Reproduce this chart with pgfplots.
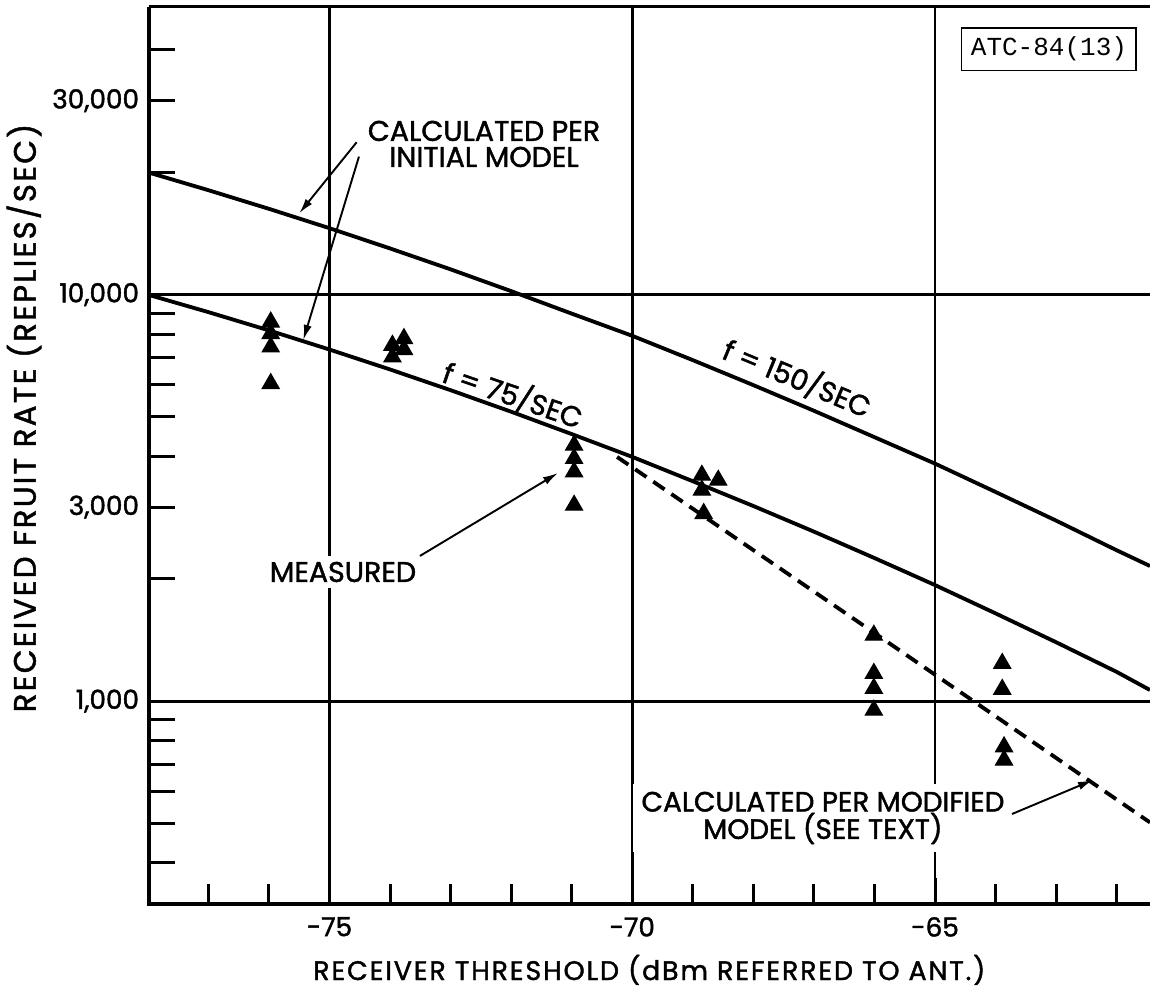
\documentclass[border=0pt]{standalone}
\usepackage{fontspec}
\setmainfont{Poppins}[FakeBold=1.5]
\newfontfamily\monofont{Liberation Mono}
\usepackage{pgfplots}
\pgfplotsset{compat=1.18}
\usetikzlibrary{arrows.meta}

\pgfplotstableread{
x y
-78 20000
-77 18070
-76 16260
-75 14570
-74 12990
-73 11540
-72 10200
-71 8980
-70 7920
-69 6900
-68 5990
-67 5180
-66 4460
-65 3840
-64 3270
-63 2780
-62 2350
-61.45 2150
}\curveA

\pgfplotstableread{
x y
-78 10000
-77 9057
-76 8166
-75 7328
-74 6546
-73 5821
-72 5152
-71 4539
-70 3990
-69 3475
-68 3020
-67 2612
-66 2249
-65 1930
-64 1644
-63 1396
-62 1180
-61.45 1065
}\curveB

\pgfplotstableread{
x y
-70.25 3988
-66.31 1582
-61.45 503
}\curveC

\pgfplotstableread{
x y
-75.97 8560
-75.97 8020
-75.97 7433
-75.97 6042
-73.96 7504
-73.96 7025
-73.77 7795
-73.77 7325
-70.96 4261
-70.96 3953
-70.96 3664
-70.96 3033
-68.85 3595
-68.85 3303
-68.58 3494
-68.82 2894
-66.01 1453
-66.01 1170
-66.01 1075
-66.01 950
-63.89 1238
-63.89 1069
-63.86 772
-63.86 716
}\measdata

\begin{document}
\begin{tikzpicture}
\begin{axis}[
 scale only axis,
 width=365.7pt, height=327.6pt,
 xmin=-77.985, xmax=-61.45,
 ymode=log, ymin=317, ymax=51000,
 axis line style={draw=none},
 tick pos=left,
 tick align=inside,
 xtick={-75,-70,-65},
 xticklabels={-75,-70,-65},
 minor xtick={-77,-76,-74,-73,-72,-71,-69,-68,-67,-66,-64,-63,-62},
 xmajorgrids=true,
 ytick={400,500,600,700,800,900,1000,2000,3000,4000,5000,6000,7000,8000,9000,10000,20000,30000,40000},
 yticklabels={,,,,,,{1,000},,{3,000},,,,,,,{10,000},,{30,000},},
 extra y ticks={1000,10000},
 extra y tick labels={},
 extra y tick style={grid=major},
 major tick length=9.5pt,
 minor tick length=7.3pt,
 tick style={line width=1.1pt, black},
 major grid style={line width=1pt, black},
 ticklabel style={font=\fontsize{9.6}{11}\selectfont},
 xticklabel style={yshift=-1.3pt},
 /pgf/number format/assume math mode=true,
 clip=false,
]
\addplot[line width=1.4pt, black] table {\curveA};
\addplot[line width=1.4pt, black] table {\curveB};
\addplot[line width=1.4pt, black, dash pattern=on 5pt off 3pt] table {\curveC};
\addplot[only marks, mark=triangle*, mark size=3.6pt, black] table {\measdata};

% frame
\draw[line width=1.4pt] (rel axis cs:0,1) -- (rel axis cs:0,0) -- (rel axis cs:1,0);
\draw[line width=1.1pt] (rel axis cs:0,1) -- (rel axis cs:1,1);

% annotations
\node[align=center, font=\fontsize{10.4}{9.5}\selectfont] at (rel axis cs:0.3349,0.8473) {CALCULATED PER\\INITIAL MODEL};
\draw[line width=0.7pt, -{Latex[length=5.5pt,width=3pt]}] (rel axis cs:0.2077,0.8492) -- (rel axis cs:0.1504,0.7700);
\draw[line width=0.7pt, -{Latex[length=5.5pt,width=3pt]}] (rel axis cs:0.2100,0.8332) -- (rel axis cs:0.1544,0.6288);

\node[fill=white, inner sep=2pt, font=\fontsize{10.4}{12}\selectfont] at (rel axis cs:0.1940,0.3701) {MEASURED};
\draw[line width=0.7pt, -{Latex[length=5.5pt,width=3pt]}] (rel axis cs:0.2709,0.3880) -- (rel axis cs:0.4088,0.4805);

\node[fill=white, align=center, inner sep=3pt, font=\fontsize{10.2}{10}\selectfont] at (rel axis cs:0.6734,0.0959) {CALCULATED PER MODIFIED\\MODEL (SEE TEXT)};
\draw[line width=0.7pt, -{Latex[length=5.5pt,width=3pt]}] (rel axis cs:0.8622,0.1003) -- (rel axis cs:0.9431,0.1382);

\node[rotate=-22.5, font=\fontsize{10.4}{12}\selectfont] at (rel axis cs:0.6477,0.5864) {f = 150/SEC};
\node[rotate=-19, font=\fontsize{10.4}{12}\selectfont] at (rel axis cs:0.3638,0.5675) {f = 75/SEC};

\node[draw, line width=0.5pt, minimum width=62.8pt, minimum height=15.3pt, font=\monofont\fontsize{9.5}{11}\selectfont] at (rel axis cs:0.8991,0.9530) {ATC-84(13)};

% axis labels
\node[rotate=90, font=\fontsize{11.3}{13}\selectfont\addfontfeatures{LetterSpace=7}] at (rel axis cs:-0.1245,0.5418) {RECEIVED FRUIT RATE (REPLIES/SEC)};
\node[font=\fontsize{9.8}{11}\selectfont\addfontfeatures{LetterSpace=7}] at (rel axis cs:0.5,-0.0736) {RECEIVER THRESHOLD (dBm REFERRED TO ANT.)};

\coordinate (bbl) at (rel axis cs:-0.1485,-0.0936);
\coordinate (btr) at (rel axis cs:1,1.0078);
\end{axis}
\pgfresetboundingbox
\useasboundingbox (bbl) rectangle (btr);
\end{tikzpicture}
\end{document}
